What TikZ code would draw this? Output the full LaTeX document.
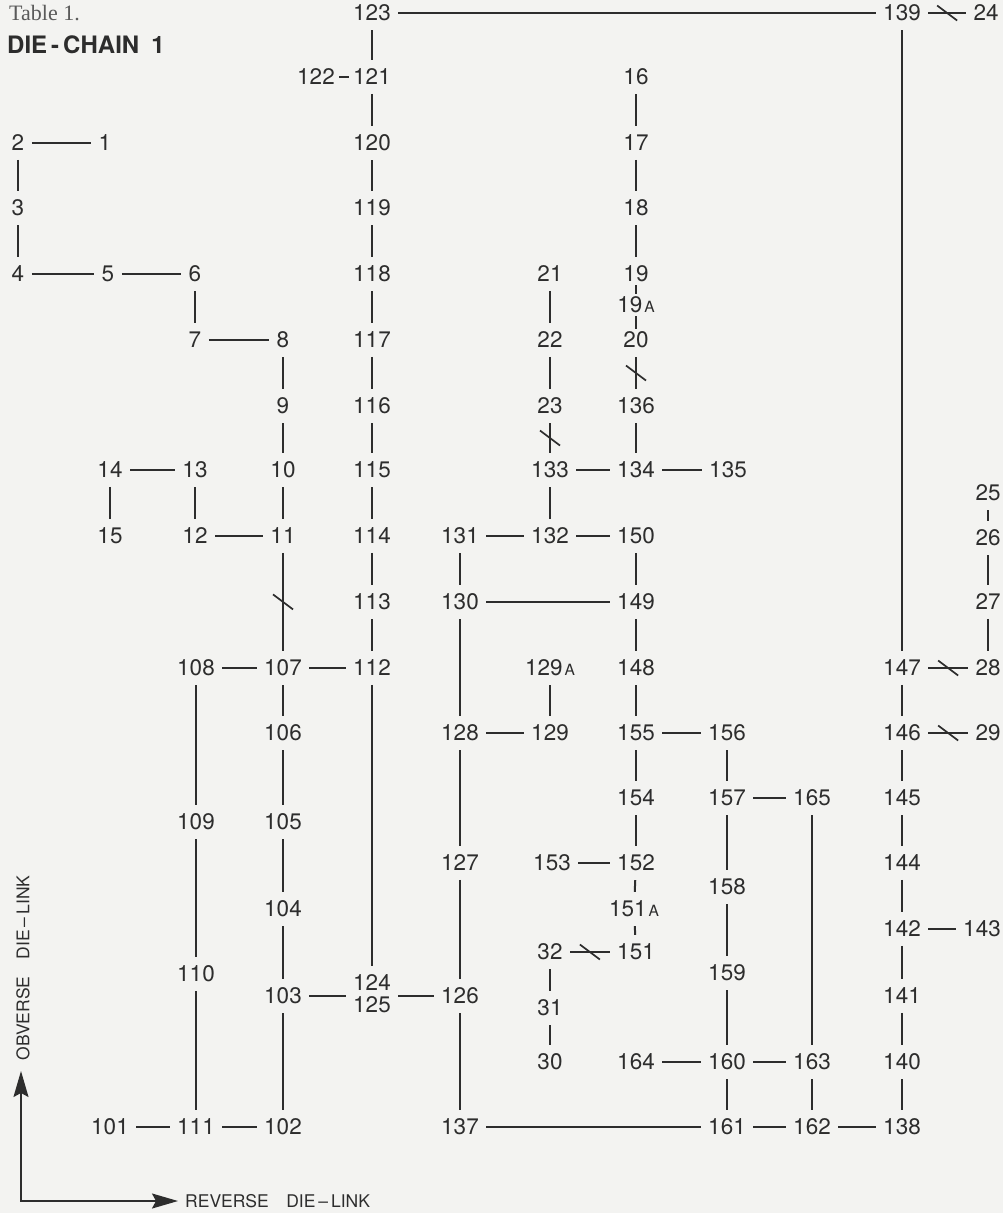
\documentclass[tikz,border=0pt]{standalone}
\usepackage{fontspec}
\setmainfont{TeX Gyre Heros}
\newfontfamily\serifa{Liberation Serif}
\usetikzlibrary{arrows.meta,decorations.markings}
\definecolor{tinta}{RGB}{45,45,45}
\definecolor{tenue}{RGB}{90,90,90}
\definecolor{fondo}{RGB}{243,243,241}

\begin{document}
\begin{tikzpicture}[x=1pt,y=-1pt,
  num/.style={inner xsep=1.5pt,inner ysep=3pt,outer sep=0pt,text=tinta,
    font=\fontsize{22.5}{22}\selectfont},
  enlace/.style={draw=tinta,line width=2pt,shorten <=6pt,shorten >=6pt},
  corto/.style={draw=tinta,line width=2pt},
  corte/.style={postaction={decorate,decoration={markings,
    mark=at position 0.5 with {\pgftransformresetnontranslations
      \draw[tinta,line width=1.7pt,shorten <=0pt,shorten >=0pt] (-10,-7.5) -- (10,7.5);}}}},
  eje/.style={inner sep=0pt,text=tinta,font=\fontsize{17.5}{17}\selectfont}]

% Fondo y marco
\fill[fondo] (0,0) rectangle (1003,1213);
\useasboundingbox (0,0) rectangle (1003,1213);

% Titulo
\node[anchor=base west,inner sep=0pt,text=tenue,font=\serifa\fontsize{22}{22}\selectfont]
  (tabla) at (9,20) {Table 1.};
\node[anchor=base west,inner sep=0pt,text=tinta,font=\bfseries\fontsize{24}{24}\selectfont]
  (titulo) at (7,53) {DIE\,-\,CHAIN\enspace 1};

% Cuños (numero / x / y)
\foreach \n/\x/\y in {
  123/372/13, 139/902/13, 24/986/13,
  122/316/77, 121/372/77, 16/636/77,
  2/18/143, 1/105/143, 120/372/143, 17/636/143,
  3/18/208, 119/372/208, 18/636/208,
  4/18/274, 5/108/274, 6/195/274, 118/372/274, 21/550/274, 19/636/274,
  7/195/340, 8/283/340, 117/372/340, 22/550/340, 20/636/340,
  9/283/406, 116/372/406, 23/550/406, 136/636/406,
  14/110/470, 13/195/470, 10/283/470, 115/372/470, 133/550/470, 134/636/470, 135/728/470,
  25/988/493,
  15/110/536, 12/195/536, 11/283/536, 114/372/536, 131/460/536, 132/550/536, 150/636/536,
  26/988/538,
  113/372/602, 130/460/602, 149/636/602, 27/988/602,
  108/196/668, 107/283/668, 112/372/668, 148/636/668, 147/902/668, 28/988/668,
  106/283/733, 128/460/733, 129/550/733, 155/636/733, 156/727/733, 146/902/733, 29/988/733,
  109/196/822, 105/283/822, 154/636/798, 157/727/798, 165/812/798, 145/902/798,
  127/460/863, 153/552/863, 152/636/863, 144/902/863,
  158/727/887, 104/283/909, 142/902/929, 143/982/929,
  32/550/952, 151/636/952, 110/196/974, 159/727/973,
  103/283/996, 126/460/996, 141/902/996, 31/550/1008,
  30/550/1062, 164/636/1062, 160/727/1062, 163/812/1062, 140/902/1062,
  101/110/1127, 111/196/1127, 102/283/1127, 137/460/1127, 161/727/1127, 162/812/1127,
  138/902/1127}
  \node[num] (n\n) at (\x,\y) {\n};

% Cuños con letra
\node[num] (n19A) at (636,305) {19\hspace{2pt}{\fontsize{15.5}{15}\selectfont A}};
\node[num] (n129A) at (550,668) {129\hspace{2pt}{\fontsize{15.5}{15}\selectfont A}};
\node[num] (n151A) at (634,909) {151\hspace{2pt}{\fontsize{15.5}{15}\selectfont A}};
\node[num,align=center] (n124) at (372,994) {124\\125};

% Enlaces horizontales
\foreach \a/\b in {123/139, 2/1, 4/5, 5/6, 7/8, 14/13, 12/11, 108/107, 107/112,
  133/134, 134/135, 131/132, 132/150, 130/149, 128/129, 155/156, 157/165,
  153/152, 142/143, 164/160, 160/163, 101/111, 111/102, 137/161, 161/162, 162/138}
  \draw[enlace] (n\a) -- (n\b);
\draw[enlace] (n103) -- (n103 -| n124.west);
\draw[enlace] (n126 -| n124.east) -- (n126);

% Enlaces verticales
\foreach \a/\b in {123/121, 121/120, 120/119, 119/118, 118/117, 117/116, 116/115,
  115/114, 114/113, 113/112, 112/124, 2/3, 3/4, 6/7, 8/9, 9/10, 10/11, 13/12, 14/15,
  107/106, 106/105, 105/104, 104/103, 103/102, 108/109, 109/110, 110/111,
  16/17, 17/18, 18/19, 136/134, 21/22, 22/23, 133/132, 131/130, 130/128, 128/127,
  127/126, 126/137, 150/149, 149/148, 148/155, 129A/129, 155/154, 154/152,
  152/151A, 151A/151, 32/31, 31/30, 156/157, 157/158, 158/159, 159/160, 160/161,
  165/163, 163/162, 139/147, 147/146, 146/145, 145/144, 144/142, 142/141, 141/140,
  140/138, 25/26, 26/27, 27/28}
  \draw[enlace] (n\a) -- (n\b);

% Enlaces muy cortos
\draw[corto,shorten <=3pt,shorten >=3pt] (n122) -- (n121);
\draw[corto] (n19) -- (n19A);
\draw[corto] (n19A) -- (n20);

% Enlaces cortados
\foreach \a/\b in {139/24, 32/151, 147/28, 146/29, 11/107, 20/136, 23/133}
  \draw[enlace,corte] (n\a) -- (n\b);

% Ejes
\coordinate (ejeO) at (21,1201);
\coordinate (ejeY) at (21,1071);
\coordinate (ejeX) at (178,1201);
\draw[tinta,line width=1.6pt,{Stealth[length=26pt,width=15pt,inset=4pt]}-{Stealth[length=26pt,width=15pt,inset=4pt]}]
  (ejeY) -- (ejeO) -- (ejeX);
\node[eje,anchor=west] (reverso) at (185,1201) {REVERSE\quad DIE\,--\,LINK};
\node[eje,rotate=90] (anverso) at (23,968) {OBVERSE\quad DIE\,--\,LINK};
\end{tikzpicture}
\end{document}
